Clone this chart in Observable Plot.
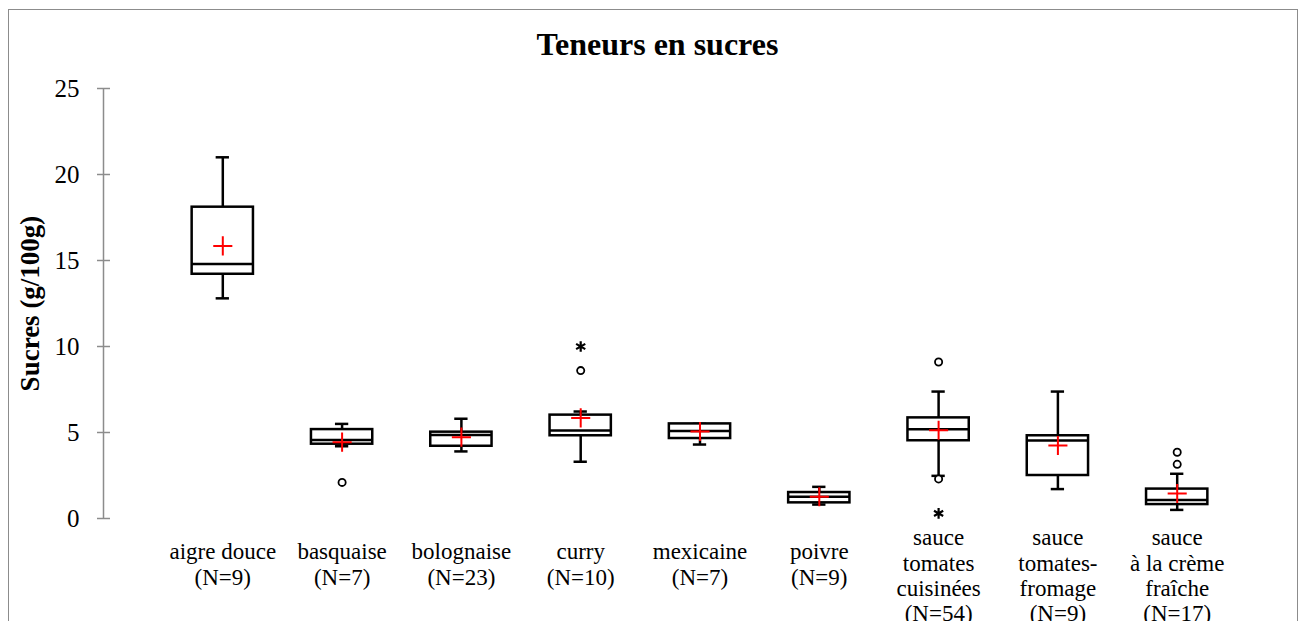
<!DOCTYPE html>
<html>
<head>
<meta charset="utf-8">
<script src="https://cdn.jsdelivr.net/npm/d3@7"></script>
<script src="https://cdn.jsdelivr.net/npm/@observablehq/plot@0.6"></script>
<style>
html, body { margin: 0; padding: 0; overflow: hidden; background: #fff; }
#chart { position: absolute; left: 0; top: 0; }
#title { position: absolute; left: 0; top: 28px; width: 1315px; text-align: center;
  font-family: "Liberation Serif", serif; font-weight: bold; font-size: 32px; line-height: 32px; color: #000; }
#frame { position: absolute; left: 8px; top: 9px; width: 1290px; height: 720px;
  border: 1px solid #8c8c8c; box-sizing: border-box; pointer-events: none; }
</style>
</head>
<body>
<div id="chart"></div>
<div id="title">Teneurs en sucres</div>
<div id="frame"></div>
<script>
// ---- data ----
const categories = ["aigre douce", "basquaise", "bolognaise", "curry", "mexicaine", "poivre",
  "sauce tomates cuisinées", "sauce tomates-fromage", "sauce à la crème fraîche"];
const labels = ["aigre douce", "basquaise", "bolognaise", "curry", "mexicaine", "poivre",
  "sauce\ntomates\ncuisinées", "sauce\ntomates-\nfromage", "sauce\nà la crème\nfraîche"];
const counts = [9, 7, 23, 10, 7, 9, 54, 9, 17];
const whiskerLow  = [12.8, 4.2, 3.9, 3.3, 4.3, 0.81, 2.48, 1.71, 0.5];
const q1          = [14.2, 4.32, 4.2, 4.81, 4.65, 0.91, 4.52, 2.5, 0.81];
const median      = [14.8, 4.57, 4.86, 5.12, 5.08, 1.26, 5.19, 4.53, 1.07];
const q3          = [18.1, 5.17, 5.02, 6.01, 5.5, 1.51, 5.85, 4.81, 1.71];
const whiskerHigh = [21.0, 5.5, 5.8, 6.22, 5.5, 1.84, 7.38, 7.38, 2.6];
const means       = [15.85, 4.44, 4.73, 5.85, 5.06, 1.26, 5.13, 4.24, 1.45];
const outlierCategory = ["basquaise", "curry", "sauce tomates cuisinées", "sauce tomates cuisinées",
  "sauce à la crème fraîche", "sauce à la crème fraîche"];
const outlierValue = [2.1, 8.6, 9.1, 2.3, 3.15, 3.85];
const extremeCategory = ["curry", "sauce tomates cuisinées"];
const extremeValue = [10.0, 0.3];
const yTicks = [0, 5, 10, 15, 20, 25];
const yLabel = "Sucres (g/100g)";

// ---- tables built from the arrays ----
const rows = categories.map((c, k) => ({
  cat: c, i: k + 1,
  label: labels[k] + "\n(N=" + counts[k] + ")",
  lines: labels[k].split("\n").length,
  lo: whiskerLow[k], q1: q1[k], med: median[k], q3: q3[k], hi: whiskerHigh[k], mean: means[k]
}));
const outliers = outlierCategory.map((c, k) => ({i: categories.indexOf(c) + 1, v: outlierValue[k]}));
const extremes = extremeCategory.map((c, k) => ({i: categories.indexOf(c) + 1, v: extremeValue[k]}));

const FONT = "Liberation Serif";
const AX = "#8c8c8c";
const LW = 2.5;

const chart = Plot.plot({
  width: 1300,
  height: 640,
  marginTop: 88,
  marginBottom: 122,
  marginLeft: 103,
  marginRight: 4,
  style: {fontFamily: FONT, background: "transparent", color: "black", overflow: "visible"},
  x: {type: "linear", domain: [0, 10], axis: null},
  y: {domain: [0, 25], axis: null},
  marks: [
    // y axis line + crossing ticks
    Plot.ruleX([0], {stroke: AX, strokeWidth: 1.5}),
    Plot.ruleY(yTicks, {y: d => d, x1: 0, x2: 0, insetLeft: -6, insetRight: -7, stroke: AX, strokeWidth: 1.5}),
    Plot.axisY(yTicks, {tickSize: 0, tickPadding: 24, fontSize: 25, fontFamily: FONT, fill: "black", label: null}),
    Plot.text([yLabel], {frameAnchor: "left", textAnchor: "middle", dx: -73, rotate: -90, fontSize: 27,
      fontWeight: "bold", fontFamily: FONT, fill: "black"}),
    // whiskers
    Plot.ruleX(rows, {x: "i", y1: "lo", y2: "q1", stroke: "black", strokeWidth: LW}),
    Plot.ruleX(rows, {x: "i", y1: "q3", y2: "hi", stroke: "black", strokeWidth: LW}),
    Plot.ruleY(rows, {y: "lo", x1: d => d.i - 0.5, x2: d => d.i + 0.5, insetLeft: 53, insetRight: 53, stroke: "black", strokeWidth: LW}),
    Plot.ruleY(rows, {y: "hi", x1: d => d.i - 0.5, x2: d => d.i + 0.5, insetLeft: 53, insetRight: 53, stroke: "black", strokeWidth: LW}),
    // boxes
    Plot.rect(rows, {x1: d => d.i - 0.5, x2: d => d.i + 0.5, y1: "q1", y2: "q3", insetLeft: 29, insetRight: 29,
      fill: "white", stroke: "black", strokeWidth: LW}),
    Plot.ruleY(rows, {y: "med", x1: d => d.i - 0.5, x2: d => d.i + 0.5, insetLeft: 29, insetRight: 29, stroke: "black", strokeWidth: LW}),
    // means
    Plot.dot(rows, {x: "i", y: "mean", symbol: "plus", r: 6.2, stroke: "#ff0000", strokeWidth: 2}),
    // outliers
    Plot.dot(outliers, {x: "i", y: "v", symbol: "circle", r: 3.6, stroke: "black", fill: "white", strokeWidth: 1.8}),
    Plot.dot(extremes, {x: "i", y: "v", symbol: "asterisk", r: 5, stroke: "black", strokeWidth: 2.2}),
    // category labels
    Plot.text(rows.filter(d => d.lines === 1), {x: "i", text: "label", frameAnchor: "bottom", lineAnchor: "top",
      dy: 23, lineHeight: 1.096, fontSize: 23, fontFamily: FONT, fill: "black"}),
    Plot.text(rows.filter(d => d.lines > 1), {x: "i", text: "label", frameAnchor: "bottom", lineAnchor: "top",
      dy: 9, lineHeight: 1.096, fontSize: 23, fontFamily: FONT, fill: "black"})
  ]
});
document.getElementById("chart").appendChild(chart);
</script>
</body>
</html>
